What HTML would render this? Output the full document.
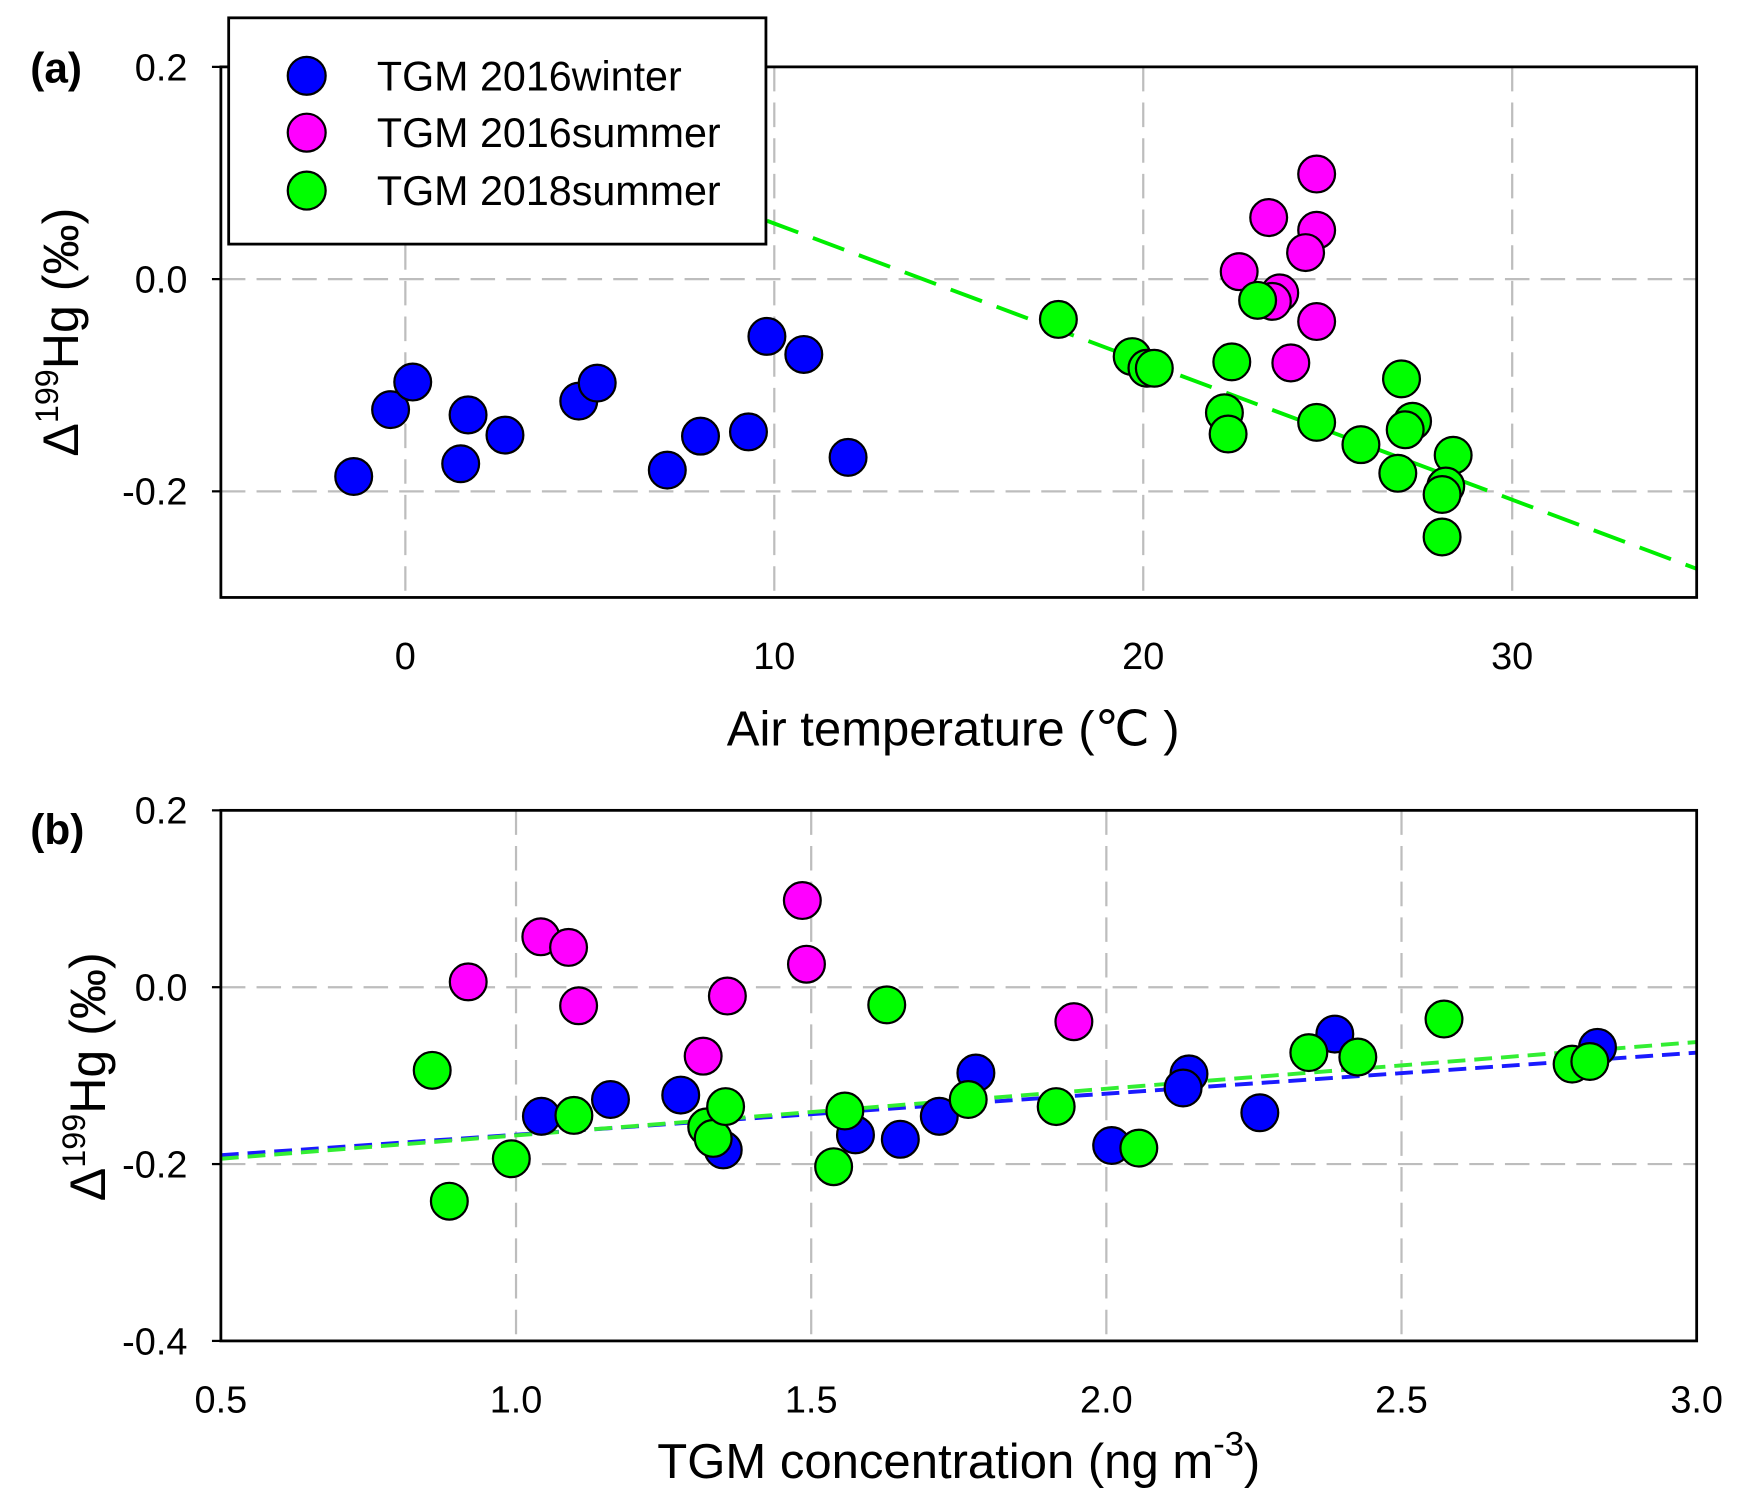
<!DOCTYPE html>
<html><head><meta charset="utf-8"><style>
html,body{margin:0;padding:0;background:#fff;}
svg{display:block;font-family:"Liberation Sans",Arial,sans-serif;}
</style></head><body>
<svg id="chart" width="1747" height="1507" viewBox="0 0 1567 1352" xmlns="http://www.w3.org/2000/svg">
<rect x="0" y="0" width="1567" height="1352" fill="#fff"/>
<g id="pa"></g>
<g id="pb"></g>
</svg>
<script>
// Panel (a) data: air temperature vs D199Hg
const aWinterX=[-1.4,-0.4,0.2,1.7,1.5,2.7,4.7,5.2,7.1,8.0,9.3,9.8,10.8,12.0];
const aWinterY=[-0.186,-0.123,-0.097,-0.128,-0.174,-0.147,-0.115,-0.098,-0.180,-0.148,-0.144,-0.054,-0.071,-0.168];
const aS16X=[24.7,23.4,24.7,24.4,22.6,23.7,23.5,24.7,24.0];
const aS16Y=[0.099,0.058,0.046,0.025,0.007,-0.013,-0.021,-0.040,-0.079];
const aS18X=[17.7,19.7,20.1,20.3,22.4,23.1,22.2,22.3,24.7,25.9,27.0,27.3,27.1,26.9,28.4,28.2,28.1,28.1];
const aS18Y=[-0.038,-0.073,-0.084,-0.084,-0.078,-0.020,-0.126,-0.146,-0.135,-0.156,-0.094,-0.134,-0.142,-0.183,-0.166,-0.195,-0.203,-0.243];
const aFitX=[9.8,35];
const aFitY=[0.055,-0.273];
const aXTicks=[0,10,20,30];
const aYTicks=[0.2,0.0,-0.2];
const aYTickLabels=["0.2","0.0","-0.2"];
// Panel (b) data: TGM concentration vs D199Hg
const bWinterX=[1.043,1.160,1.279,1.351,1.575,1.651,1.717,1.779,2.009,2.140,2.130,2.260,2.387,2.832];
const bWinterY=[-0.146,-0.127,-0.122,-0.184,-0.167,-0.172,-0.146,-0.097,-0.179,-0.098,-0.114,-0.142,-0.053,-0.068];
const bS16X=[1.485,1.042,1.089,0.919,1.106,1.492,1.358,1.317,1.945];
const bS16Y=[0.098,0.057,0.045,0.006,-0.021,0.026,-0.010,-0.078,-0.039];
const bS18X=[0.858,0.887,0.992,1.098,1.323,1.334,1.355,1.538,1.557,1.628,1.766,1.915,2.055,2.343,2.426,2.572,2.789,2.819];
const bS18Y=[-0.094,-0.242,-0.194,-0.145,-0.158,-0.171,-0.135,-0.203,-0.140,-0.020,-0.127,-0.135,-0.182,-0.074,-0.079,-0.036,-0.087,-0.084];
const bFitX=[0.5,3.0];
const bFitBlueY=[-0.190,-0.074];
const bFitGreenY=[-0.194,-0.062];
const bXTicks=[0.5,1.0,1.5,2.0,2.5,3.0];
const bXTickLabels=["0.5","1.0","1.5","2.0","2.5","3.0"];
const bYTicks=[0.2,0.0,-0.2,-0.4];
const bYTickLabels=["0.2","0.0","-0.2","-0.4"];

const NS="http://www.w3.org/2000/svg";
function mk(parent,tag,attrs,text){const e=document.createElementNS(NS,tag);for(const k in attrs)e.setAttribute(k,attrs[k]);if(text!==undefined)e.textContent=text;parent.appendChild(e);return e;}
const COL={w:"#0000ff",m:"#ff00ff",g:"#00ff00"};

function panel(g,cfg){
  const sx=v=>cfg.x0+(v-cfg.xmin)/(cfg.xmax-cfg.xmin)*(cfg.x1-cfg.x0);
  const sy=v=>cfg.y1-(v-cfg.ymin)/(cfg.ymax-cfg.ymin)*(cfg.y1-cfg.y0);
  const clipId=cfg.id+"clip";
  const defs=mk(g,"defs",{});const cp=mk(defs,"clipPath",{id:clipId});
  mk(cp,"rect",{x:cfg.x0,y:cfg.y0,width:cfg.x1-cfg.x0,height:cfg.y1-cfg.y0});
  cfg.xTicks.forEach((t,i)=>{
    if(t>cfg.xmin&&t<cfg.xmax){const l=mk(g,"line",{x1:sx(t),x2:sx(t),y1:cfg.y0,y2:cfg.y1,stroke:"#bdbdbd","stroke-width":2,"stroke-dasharray":"22,10"});
    
    }
    const tx=mk(g,"text",{x:sx(t),y:cfg.y1+64,"font-size":34,"text-anchor":"middle"},cfg.xLabels[i]);
    
    
  });
  cfg.yTicks.forEach((t,i)=>{
    if(t>cfg.ymin&&t<cfg.ymax){const l=mk(g,"line",{x1:cfg.x0,x2:cfg.x1,y1:sy(t),y2:sy(t),stroke:"#bdbdbd","stroke-width":2,"stroke-dasharray":"22,10"});
    
    }
    const tk=mk(g,"line",{x1:cfg.x0-8,x2:cfg.x0,y1:sy(t),y2:sy(t),stroke:"#000","stroke-width":2});
    
    
    const tx=mk(g,"text",{x:cfg.x0-30,y:sy(t)+12,"font-size":34,"text-anchor":"end"},cfg.yLabels[i]);
    
    
  });
  cfg.fits.forEach(f=>{
    const l=mk(g,"line",{x1:sx(f.x[0]),y1:sy(f.y[0]),x2:sx(f.x[1]),y2:sy(f.y[1]),stroke:f.c,"stroke-width":f.w,"stroke-dasharray":f.d,"clip-path":"url(#"+clipId+")"});
    
    
  });
  cfg.series.forEach(s=>{
    s.x.forEach((xv,i)=>{
      const c=mk(g,"circle",{cx:sx(xv),cy:sy(s.y[i]),r:16.5,fill:s.c,stroke:"#000","stroke-width":2});
      
      
    });
  });
  const fr=mk(g,"rect",{x:cfg.x0,y:cfg.y0,width:cfg.x1-cfg.x0,height:cfg.y1-cfg.y0,fill:"none",stroke:"#000","stroke-width":2.5});
  
  
}

const pa=document.getElementById("pa"),pb=document.getElementById("pb");
panel(pa,{id:"a",x0:198,x1:1522,y0:60,y1:536,xmin:-5,xmax:35,ymin:-0.3,ymax:0.2,
  xTicks:aXTicks,xLabels:aXTicks.map(String),yTicks:aYTicks,yLabels:aYTickLabels,
  fits:[{x:aFitX,y:aFitY,c:"#00ee00",w:3.5,d:"30,14",name:"fit-line-2018summer"}],
  series:[{x:aWinterX,y:aWinterY,c:COL.w,name:"point-2016winter"},{x:aS16X,y:aS16Y,c:COL.m,name:"point-2016summer"},{x:aS18X,y:aS18Y,c:COL.g,name:"point-2018summer"}]});
panel(pb,{id:"b",x0:198,x1:1522,y0:727,y1:1203,xmin:0.5,xmax:3.0,ymin:-0.4,ymax:0.2,
  xTicks:bXTicks,xLabels:bXTickLabels,yTicks:bYTicks,yLabels:bYTickLabels,
  fits:[{x:bFitX,y:bFitBlueY,c:"#1a1aff",w:3.5,d:"16,8",name:"fit-line-2016winter"},{x:bFitX,y:bFitGreenY,c:"#33ee33",w:3.5,d:"16,8",name:"fit-line-2018summer"}],
  series:[{x:bWinterX,y:bWinterY,c:COL.w,name:"point-2016winter"},{x:bS16X,y:bS16Y,c:COL.m,name:"point-2016summer"},{x:bS18X,y:bS18Y,c:COL.g,name:"point-2018summer"}]});

const lg=mk(pa,"g",{});


mk(lg,"rect",{x:205,y:16,width:482,height:203,fill:"#fff",stroke:"#000","stroke-width":2.5});
[["TGM 2016winter",COL.w,68],["TGM 2016summer",COL.m,119],["TGM 2018summer",COL.g,171]].forEach(e=>{
  const it=mk(lg,"g",{});
  
  
  mk(it,"circle",{cx:275,cy:e[2],r:17,fill:e[1],stroke:"#000","stroke-width":2});
  mk(it,"text",{x:338,y:e[2]+13,"font-size":37},e[0]);
});

function ylab(g,cx,cy){
  const t=mk(g,"text",{transform:"translate("+cx+","+cy+") rotate(-90)","font-size":45,"text-anchor":"middle"});
  
  
  mk(t,"tspan",{},"Δ");
  mk(t,"tspan",{"font-size":29,dy:-18},"199");
  mk(t,"tspan",{dy:18},"Hg (‰)");
}
ylab(pa,70,298);ylab(pb,94,966);
let t;
t=mk(pa,"text",{x:27,y:74,"font-size":38,"font-weight":"bold"},"(a)");


t=mk(pb,"text",{x:27,y:757,"font-size":38,"font-weight":"bold"},"(b)");


t=mk(pa,"text",{x:855,y:669,"font-size":44,"text-anchor":"middle"},"Air temperature (℃ )");


t=mk(pb,"text",{x:860,y:1326,"font-size":44,"text-anchor":"middle"});


mk(t,"tspan",{},"TGM concentration (ng m");
mk(t,"tspan",{"font-size":31,dy:-20},"-3");
mk(t,"tspan",{dy:20},")");
</script>
</body></html>
